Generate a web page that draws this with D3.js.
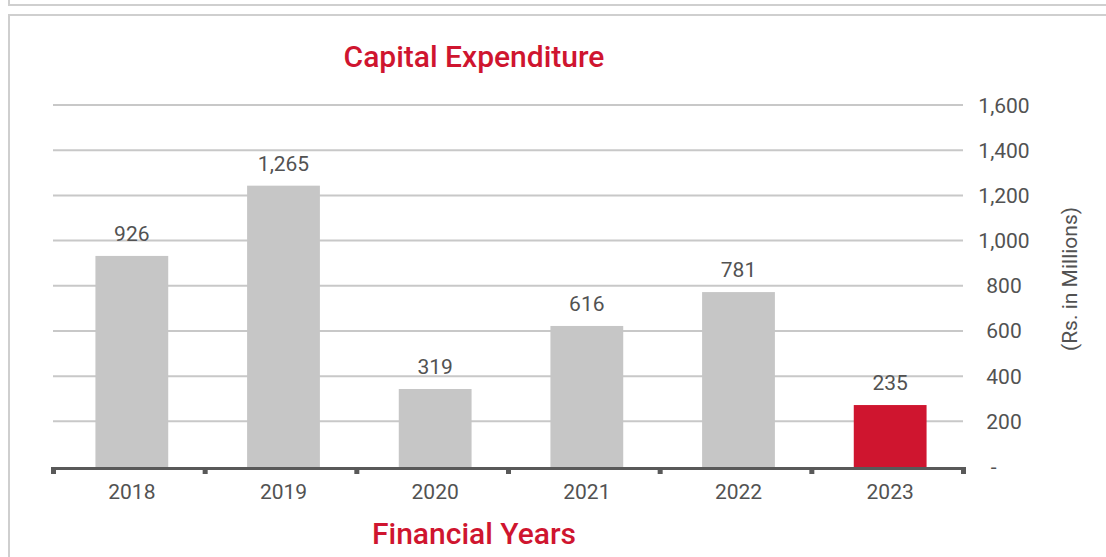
<!DOCTYPE html>
<html>
<head>
<meta charset="utf-8">
<script src="https://cdn.jsdelivr.net/npm/d3@7"></script>
<style>
  body { margin: 0; background: #fff; }
  svg { display: block; font-family: Roboto, "Noto Sans", sans-serif; }
</style>
</head>
<body>
<div id="chart"></div>
<script>
// data
const years = ["2018", "2019", "2020", "2021", "2022", "2023"];
const valueLabels = [926, 1265, 319, 616, 781, 235];   // printed above bars
const barHeights = [932, 1243, 343, 622, 772, 272];    // bar tops as drawn
const yTicks = [0, 200, 400, 600, 800, 1000, 1200, 1400, 1600];

const width = 1106, height = 557;
const grey = "#c6c6c6", red = "#cf152f", textCol = "#525252";

const svg = d3.select("#chart").append("svg")
    .attr("width", width)
    .attr("height", height);

// frame lines (bottom of previous panel + this panel)
svg.append("rect")
    .attr("x", 9).attr("y", -60).attr("width", 1200).attr("height", 65)
    .attr("fill", "none").attr("stroke", "#cfcfcf").attr("stroke-width", 2);
svg.append("rect")
    .attr("x", 9).attr("y", 15).attr("width", 1200).attr("height", 700)
    .attr("fill", "none").attr("stroke", "#cfcfcf").attr("stroke-width", 2);

const x = d3.scaleBand()
    .domain(years)
    .range([53.5, 963.5])
    .paddingInner(0.52)
    .paddingOuter(0.26);
const shift = 2.5; // bars sit a touch right of band centre in the original
const cx = d => x(d) + x.bandwidth() / 2 + shift;

const y = d3.scaleLinear()
    .domain([0, 1600])
    .range([466.5, 105]);

// gridlines
svg.append("g")
    .selectAll("line")
    .data(yTicks.filter(d => d > 0))
    .join("line")
    .attr("x1", 53).attr("x2", 963)
    .attr("y1", d => y(d)).attr("y2", d => y(d))
    .attr("stroke", "#c8c8c8").attr("stroke-width", 2);

// y tick labels on the right
const fmt = d3.format(",");
svg.append("g")
    .selectAll("text")
    .data(yTicks)
    .join("text")
    .attr("x", 1004)
    .attr("y", d => y(d))
    .attr("dy", "0.36em")
    .attr("text-anchor", "middle")
    .attr("fill", textCol)
    .style("font-size", "21px")
    .style("white-space", "pre")
    .text(d => d === 0 ? "-\u00a0\u00a0\u00a0\u00a0" : fmt(d));

// bars
svg.append("g")
    .selectAll("rect")
    .data(years)
    .join("rect")
    .attr("x", d => cx(d) - x.bandwidth() / 2)
    .attr("width", x.bandwidth())
    .attr("y", (d, i) => y(barHeights[i]))
    .attr("height", (d, i) => y(0) - y(barHeights[i]) + 1)
    .attr("fill", (d, i) => i === years.length - 1 ? red : grey);

// value labels
svg.append("g")
    .selectAll("text")
    .data(years)
    .join("text")
    .attr("x", cx)
    .attr("y", (d, i) => y(barHeights[i]) - 15)
    .attr("text-anchor", "middle")
    .attr("fill", textCol)
    .style("font-size", "21px")
    .text((d, i) => fmt(valueLabels[i]));

// x axis: dark baseline with small ticks at band edges
const axisY = 468.5;
const edges = years.map(d => x(d) - x.step() * x.paddingInner() / 2);
edges.push(x.range()[1]);
const axis = svg.append("g");
axis.append("line")
    .attr("x1", 51).attr("x2", 966)
    .attr("y1", axisY).attr("y2", axisY)
    .attr("stroke", "#595959").attr("stroke-width", 3);
axis.selectAll("rect")
    .data(edges)
    .join("rect")
    .attr("x", d => d - 2.5)
    .attr("y", axisY)
    .attr("width", 5)
    .attr("height", 5.5)
    .attr("fill", "#595959");
axis.selectAll("text")
    .data(years)
    .join("text")
    .attr("x", cx)
    .attr("y", 499)
    .attr("text-anchor", "middle")
    .attr("fill", textCol)
    .style("font-size", "21px")
    .text(d => d);

// titles
svg.append("text")
    .attr("x", 474).attr("y", 67)
    .attr("text-anchor", "middle")
    .attr("fill", red)
    .style("font-size", "30px")
    .style("font-weight", 500)
    .text("Capital Expenditure");

svg.append("text")
    .attr("x", 474).attr("y", 544)
    .attr("text-anchor", "middle")
    .attr("fill", red)
    .style("font-size", "30px")
    .style("font-weight", 500)
    .text("Financial Years");

svg.append("text")
    .attr("transform", "translate(1077,279) rotate(-90)")
    .attr("text-anchor", "middle")
    .attr("fill", textCol)
    .style("font-size", "21px")
    .text("(Rs. in Millions)");
</script>
</body>
</html>
